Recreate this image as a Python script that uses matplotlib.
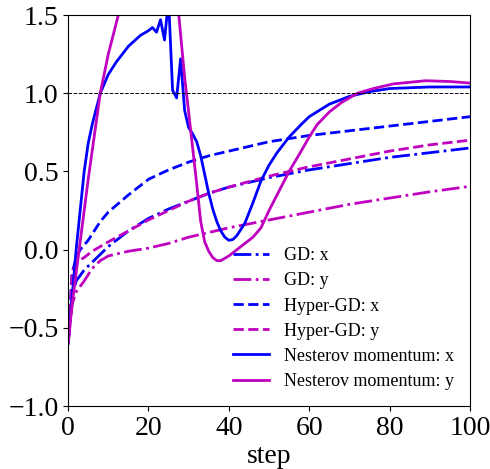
import matplotlib
matplotlib.use("Agg")
import matplotlib.pyplot as plt

plt.rcParams['font.family'] = ['Liberation Serif', 'DejaVu Serif']
plt.rcParams['mathtext.fontset'] = 'stix'

# GD: x
gd_x_steps = [0, 1, 2, 4, 6, 10, 15, 20, 25, 30, 35, 40, 50, 60, 70, 80, 90, 100]
gd_x_vals = [-0.6, -0.3, -0.2, -0.13, -0.08, 0.02, 0.12, 0.2, 0.26, 0.31, 0.36, 0.40, 0.46, 0.51, 0.55, 0.59, 0.62, 0.65]

# GD: y
gd_y_steps = [0, 1, 2, 4, 6, 8, 10, 15, 20, 25, 30, 35, 40, 50, 60, 70, 80, 90, 100]
gd_y_vals = [-0.6, -0.35, -0.27, -0.2, -0.12, -0.07, -0.04, -0.01, 0.01, 0.04, 0.08, 0.11, 0.14, 0.19, 0.24, 0.29, 0.33, 0.37, 0.405]

# Hyper-GD: x
hgd_x_steps = [0, 1, 2, 3, 5, 8, 10, 15, 20, 25, 30, 35, 40, 50, 60, 70, 80, 90, 100]
hgd_x_vals = [-0.6, -0.15, -0.05, 0.0, 0.06, 0.18, 0.24, 0.35, 0.45, 0.51, 0.56, 0.60, 0.63, 0.69, 0.73, 0.76, 0.79, 0.82, 0.85]

# Hyper-GD: y
hgd_y_steps = [0, 1, 2, 4, 6, 10, 15, 20, 25, 30, 35, 40, 50, 60, 70, 80, 90, 100]
hgd_y_vals = [-0.6, -0.15, -0.08, -0.05, -0.01, 0.05, 0.12, 0.19, 0.25, 0.31, 0.36, 0.40, 0.47, 0.53, 0.58, 0.63, 0.67, 0.70]

# Nesterov momentum: x
nm_x_steps = [0, 1, 2, 3, 4, 5, 6, 8, 10, 12, 15, 18, 20, 21, 22, 23, 24, 25, 26, 27, 28, 29, 30, 31, 32, 33,
              34, 35, 36, 37, 38, 39, 40, 41, 42, 44, 46, 48, 50, 52, 55, 58, 60, 65, 70, 75, 80, 90, 100]
nm_x_vals = [-0.6, -0.3, 0.0, 0.25, 0.5, 0.68, 0.8, 1.0, 1.12, 1.2, 1.3, 1.37, 1.4, 1.42, 1.39, 1.47, 1.34, 1.6,
             1.02, 0.97, 1.22, 0.89, 0.78, 0.74, 0.69, 0.60, 0.48, 0.36, 0.26, 0.18, 0.12, 0.08, 0.06, 0.065,
             0.09, 0.17, 0.30, 0.44, 0.54, 0.62, 0.72, 0.80, 0.85, 0.93, 0.98, 1.01, 1.03, 1.04, 1.04]

# Nesterov momentum: y
nm_y_steps = [0, 1, 3, 5, 8, 10, 12, 15, 20, 24, 27, 29, 30, 31, 32, 33, 34, 35, 36, 37, 38, 40, 42, 44, 46,
              48, 50, 52, 55, 58, 60, 62, 65, 68, 72, 76, 81, 89, 95, 100]
nm_y_vals = [-0.6, -0.35, 0.05, 0.45, 1.0, 1.25, 1.45, 1.75, 2.0, 2.0, 1.65, 1.1, 0.88, 0.65, 0.42, 0.18, 0.05,
             -0.01, -0.05, -0.07, -0.07, -0.04, 0.0, 0.04, 0.08, 0.14, 0.25, 0.35, 0.50, 0.63, 0.72, 0.80, 0.88,
             0.94, 1.0, 1.03, 1.06, 1.08, 1.075, 1.065]

fig = plt.figure(figsize=(4.9, 4.69), dpi=100)
ax = fig.add_axes([0.139, 0.134, 0.82, 0.834])

lw = 2.0
ax.plot(gd_x_steps, gd_x_vals, color='b', ls='-.', lw=lw, label='GD: x')
ax.plot(gd_y_steps, gd_y_vals, color='m', ls='-.', lw=lw, label='GD: y')
ax.plot(hgd_x_steps, hgd_x_vals, color='b', ls='--', lw=lw, label='Hyper-GD: x')
ax.plot(hgd_y_steps, hgd_y_vals, color='m', ls='--', lw=lw, label='Hyper-GD: y')
ax.plot(nm_x_steps, nm_x_vals, color='b', ls='-', lw=lw, label='Nesterov momentum: x')
ax.plot(nm_y_steps, nm_y_vals, color='m', ls='-', lw=lw, label='Nesterov momentum: y')
ax.axhline(1.0, color='k', ls='--', lw=0.7)

ax.set_xlim(0, 100)
ax.set_ylim(-1.0, 1.5)
ax.set_xticks([0, 20, 40, 60, 80, 100])
ax.set_yticks([-1.0, -0.5, 0.0, 0.5, 1.0, 1.5])
ax.tick_params(labelsize=20)
ax.set_xlabel('step', fontsize=20, labelpad=2)

ax.legend(loc='lower right', fontsize=13, frameon=False, labelspacing=0.45)

fig.savefig('out.png', dpi=100)
